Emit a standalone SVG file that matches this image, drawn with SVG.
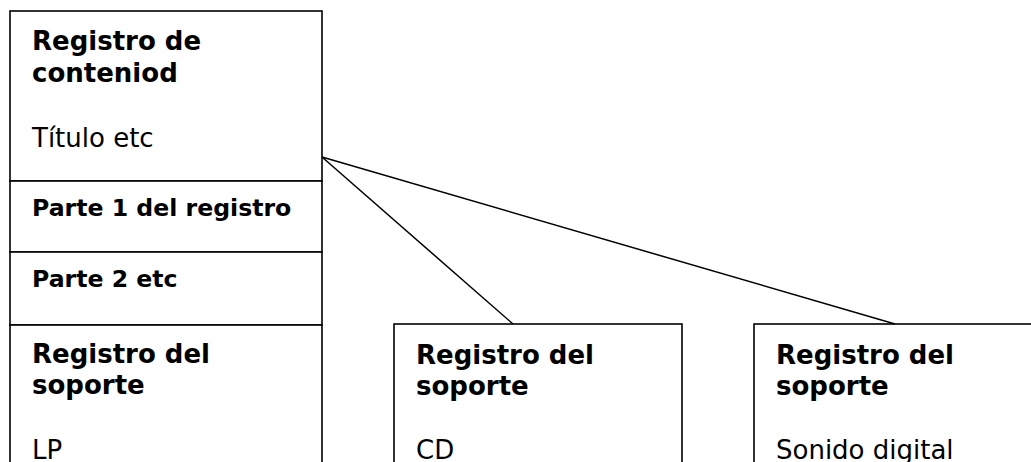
<svg xmlns="http://www.w3.org/2000/svg" width="1031" height="462" viewBox="0 0 1031 462">
  <style>
    .box { fill: #fff; stroke: #000; stroke-width: 1.6; }
    .conn { stroke: #000; stroke-width: 1.5; fill: none; }
    .h { font-family: "DejaVu Sans", Verdana, sans-serif; font-weight: bold; font-size: 26px; fill: #000; }
    .p { font-family: "DejaVu Sans", Verdana, sans-serif; font-weight: bold; font-size: 23.6px; fill: #000; }
    .t { font-family: "DejaVu Sans", Verdana, sans-serif; font-size: 26px; fill: #000; }
  </style>
  <rect width="1031" height="462" fill="#fff"/>
  <g id="content-record">
    <rect class="box" x="10" y="11" width="312" height="170"/>
    <text class="h" x="32" y="50">Registro de</text>
    <text class="h" x="32" y="82">conteniod</text>
    <text class="t" x="32" y="147">Título etc</text>
  </g>
  <g id="part-1">
    <rect class="box" x="10" y="181" width="312" height="71"/>
    <text class="p" x="32" y="216">Parte 1 del registro</text>
  </g>
  <g id="part-2">
    <rect class="box" x="10" y="252" width="312" height="73"/>
    <text class="p" x="32" y="287">Parte 2 etc</text>
  </g>
  <g id="carrier-lp">
    <rect class="box" x="10" y="325" width="312" height="160"/>
    <text class="h" x="32" y="363">Registro del</text>
    <text class="h" x="32" y="394">soporte</text>
    <text class="t" x="32" y="459">LP</text>
  </g>
  <g id="carrier-cd">
    <rect class="box" x="394" y="324" width="288" height="160"/>
    <text class="h" x="416" y="364">Registro del</text>
    <text class="h" x="416" y="395">soporte</text>
    <text class="t" x="416" y="459">CD</text>
  </g>
  <g id="carrier-digital">
    <rect class="box" x="754" y="324" width="300" height="160"/>
    <text class="h" x="776" y="364">Registro del</text>
    <text class="h" x="776" y="395">soporte</text>
    <text class="t" x="776" y="459">Sonido digital</text>
  </g>
  <g id="connectors">
    <line class="conn" x1="322" y1="157" x2="513" y2="324"/>
    <line class="conn" x1="322" y1="157" x2="895" y2="324"/>
  </g>
</svg>
